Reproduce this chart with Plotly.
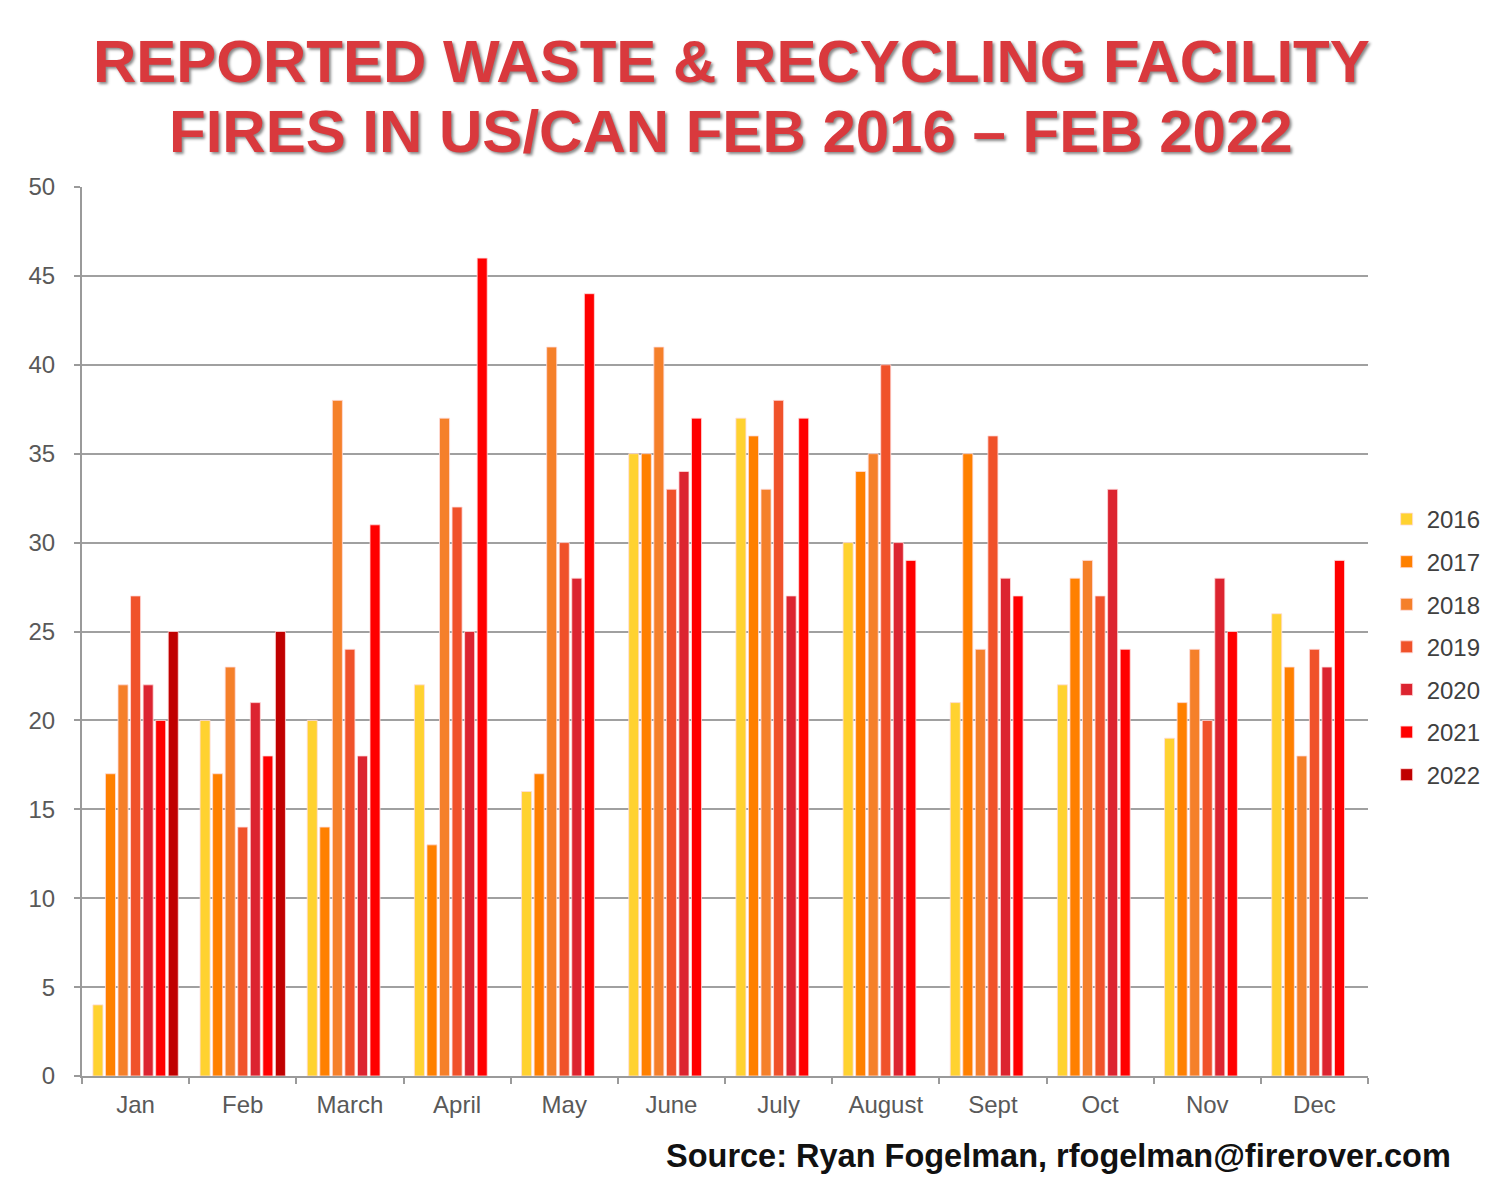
import plotly.graph_objects as go

months = ["Jan", "Feb", "March", "April", "May", "June", "July", "August", "Sept", "Oct", "Nov", "Dec"]
years = ["2016", "2017", "2018", "2019", "2020", "2021", "2022"]

y2016 = [4, 20, 20, 22, 16, 35, 37, 30, 21, 22, 19, 26]
y2017 = [17, 17, 14, 13, 17, 35, 36, 34, 35, 28, 21, 23]
y2018 = [22, 23, 38, 37, 41, 41, 33, 35, 24, 29, 24, 18]
y2019 = [27, 14, 24, 32, 30, 33, 38, 40, 36, 27, 20, 24]
y2020 = [22, 21, 18, 25, 28, 34, 27, 30, 28, 33, 28, 23]
y2021 = [20, 18, 31, 46, 44, 37, 37, 29, 27, 24, 25, 29]
y2022 = [25, 25, None, None, None, None, None, None, None, None, None, None]

series = [y2016, y2017, y2018, y2019, y2020, y2021, y2022]
colors = ["#FFD230", "#FF8000", "#F5802A", "#F0522A", "#DC2430", "#FF0000", "#C00000"]

fig = go.Figure()
for name, vals, col in zip(years, series, colors):
    fig.add_trace(go.Bar(
        x=months, y=vals, name=name, legendgroup=name,
        marker=dict(color=col, line=dict(color="rgba(255,220,220,0.8)", width=1)),
    ))

fig.update_layout(
    width=1500, height=1195,
    margin=dict(l=82, r=132, t=187, b=119, autoexpand=False),
    paper_bgcolor="white", plot_bgcolor="white",
    barmode="group", bargap=0.18, bargroupgap=0.2,
    font=dict(family="Liberation Sans, Arial, sans-serif", color="#595959", size=20),
    legend=dict(
        x=1.0145, y=0.4826, xanchor="left", yanchor="middle",
        font=dict(size=24, color="#404040"),
        tracegroupgap=8.4, itemwidth=30,
    ),
    showlegend=True,
)

fig.update_xaxes(
    showline=True, linecolor="#9a9a9a", linewidth=2,
    ticks="outside", tickson="boundaries", ticklen=6, tickcolor="#9a9a9a", tickwidth=2,
    ticklabelstandoff=6,
    tickfont=dict(size=24, color="#595959"),
    showgrid=False,
)
fig.update_yaxes(
    range=[0, 50], dtick=5, tick0=0,
    showline=True, linecolor="#9a9a9a", linewidth=2,
    showgrid=True, gridcolor="#a0a0a0", gridwidth=1.5,
    zeroline=False, ticks="outside", ticklen=6, tickcolor="#9a9a9a", tickwidth=2,
    ticklabelstandoff=14,
    tickfont=dict(size=24, color="#595959"),
)

title_font = dict(family="Liberation Sans, Arial", size=60,
                  color="#D9393D", weight="bold", shadow="2px 2px 3px #888888")
fig.add_annotation(xref="paper", yref="paper", x=0.505, y=1.0, yshift=126,
                   text="REPORTED WASTE &amp; RECYCLING FACILITY", showarrow=False,
                   xanchor="center", yanchor="middle", font=title_font)
fig.add_annotation(xref="paper", yref="paper", x=0.505, y=1.0, yshift=56,
                   text="FIRES IN US/CAN FEB 2016 – FEB 2022", showarrow=False,
                   xanchor="center", yanchor="middle", font=title_font)
fig.add_annotation(xref="paper", yref="paper", x=1.0, xshift=85, y=0, yshift=-80,
                   text="Source: Ryan Fogelman, rfogelman@firerover.com", showarrow=False,
                   xanchor="right", yanchor="middle",
                   font=dict(family="Liberation Sans, Arial", size=32.5, color="#111111", weight="bold"))

fig.write_html("out.html")
